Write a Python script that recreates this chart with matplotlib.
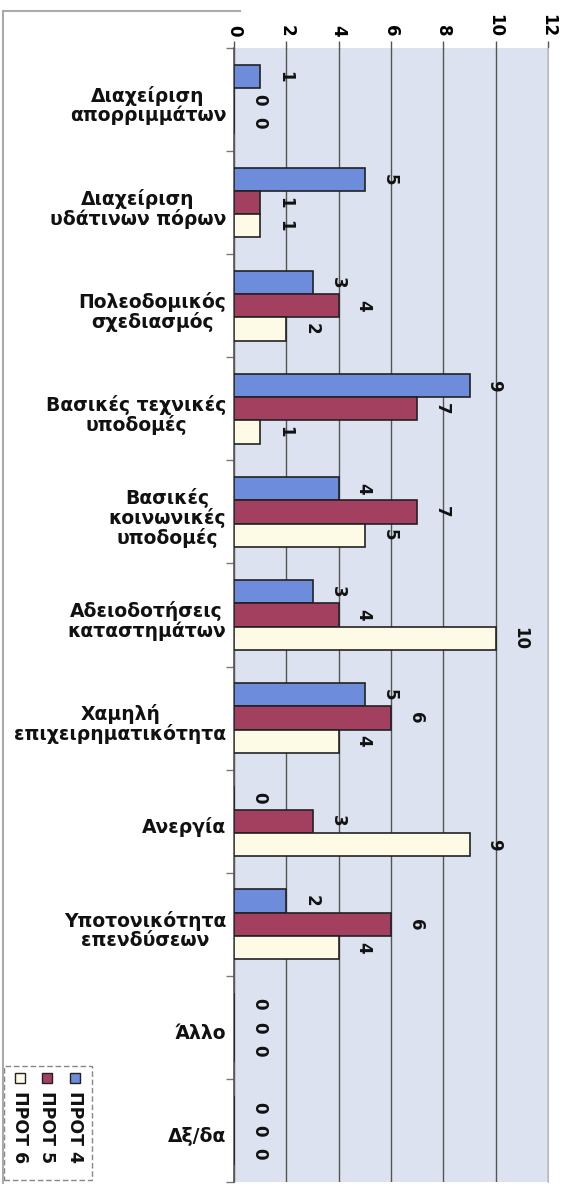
import matplotlib
matplotlib.use("Agg")
import matplotlib.pyplot as plt
from matplotlib.patches import Rectangle
import numpy as np

categories = [
    "Διαχείριση\nαπορριμμάτων",
    "Διαχείριση\nυδάτινων πόρων",
    "Πολεοδομικός\nσχεδιασμός",
    "Βασικές τεχνικές\nυποδομές",
    "Βασικές\nκοινωνικές\nυποδομές",
    "Αδειοδοτήσεις\nκαταστημάτων",
    "Χαμηλή\nεπιχειρηματικότητα",
    "Ανεργία",
    "Υποτονικότητα\nεπενδύσεων",
    "Άλλο",
    "Δξ/δα",
]
prot4 = [1, 5, 3, 9, 4, 3, 5, 0, 2, 0, 0]
prot5 = [0, 1, 4, 7, 7, 4, 6, 3, 6, 0, 0]
prot6 = [0, 1, 2, 1, 5, 10, 4, 9, 4, 0, 0]
series_names = ["ΠΡΟΤ 4", "ΠΡΟΤ 5", "ΠΡΟΤ 6"]
colors = ["#6d8cdb", "#a3405f", "#fdfbe6"]
xticks = [0, 2, 4, 6, 8, 10, 12]

W, H = 564, 1184
fig = plt.figure(figsize=(W / 100, H / 100), dpi=100)
fig.patch.set_facecolor("white")

left, right, top, bottom = 234, 548, 48, 1182
ax = fig.add_axes([left / W, 1 - bottom / H, (right - left) / W, (bottom - top) / H])
ax.set_facecolor("#dde2f0")

n = len(categories)
y = np.arange(n)
bh = 0.225
for i, (vals, c) in enumerate(zip([prot4, prot5, prot6], colors)):
    pos = y + (i - 1) * bh
    ax.barh(pos, vals, height=bh, color=c, edgecolor="#222222", linewidth=1.2, zorder=3)
    for p, v in zip(pos, vals):
        ax.annotate(str(v), xy=(v, p), xytext=(18, 0), textcoords="offset points",
                    ha="center", va="center", rotation=-90, fontsize=12,
                    fontweight="bold", color="#111111", zorder=4)

ax.set_xlim(0, 12)
ax.set_ylim(n - 0.5, -0.5)
ax.xaxis.tick_top()
ax.set_xticks(xticks)
ax.set_xticklabels([str(t) for t in xticks], rotation=-90, fontsize=12, fontweight="bold")
ax.tick_params(axis="x", direction="out", length=5, width=1, color="#555555", pad=3)
ax.grid(axis="x", color="#555555", linewidth=1.0, zorder=1)

ax.set_yticks(np.arange(n + 1) - 0.5, minor=False)
ax.set_yticklabels([])
ax.tick_params(axis="y", direction="out", length=6, width=1, color="#777777")
for i, lab in enumerate(categories):
    ax.text(-0.3, i + 0.06, lab, ha="right", va="center", multialignment="center",
            fontsize=13.5, fontweight="bold", color="#111111",
            transform=ax.transData, linespacing=1.0, clip_on=False)

ax.spines["left"].set_color("#555555")
ax.spines["left"].set_linewidth(1.2)
ax.spines["top"].set_visible(False)
ax.spines["bottom"].set_visible(False)
ax.spines["right"].set_color("#bbbbbb")

# outer frame lines
fig.add_artist(plt.Line2D([3 / W, 3 / W], [1 - 11 / H, 0], color="#aaaaaa", lw=1.5))
fig.add_artist(plt.Line2D([3 / W, 240 / W], [1 - 11 / H, 1 - 11 / H], color="#aaaaaa", lw=1.5))

# legend (rotated)
lx0, ly0, lx1, ly1 = 4, 1066, 92, 1180
fig.add_artist(Rectangle((lx0 / W, 1 - ly1 / H), (lx1 - lx0) / W, (ly1 - ly0) / H,
                         transform=fig.transFigure, facecolor="white",
                         edgecolor="#888888", lw=1, ls=(0, (4, 2))))
cols_x = [75, 47, 20]
for cx, name, c in zip(cols_x, series_names, colors):
    fig.add_artist(Rectangle(((cx - 5) / W, 1 - 1083 / H), 10 / W, 10 / H,
                             transform=fig.transFigure, facecolor=c,
                             edgecolor="#222222", lw=1))
    fig.text(cx / W, 1 - 1091 / H, name, rotation=-90, ha="center", va="top",
             fontsize=12.5, fontweight="bold", color="#111111")

fig.savefig("out.png", dpi=100)
